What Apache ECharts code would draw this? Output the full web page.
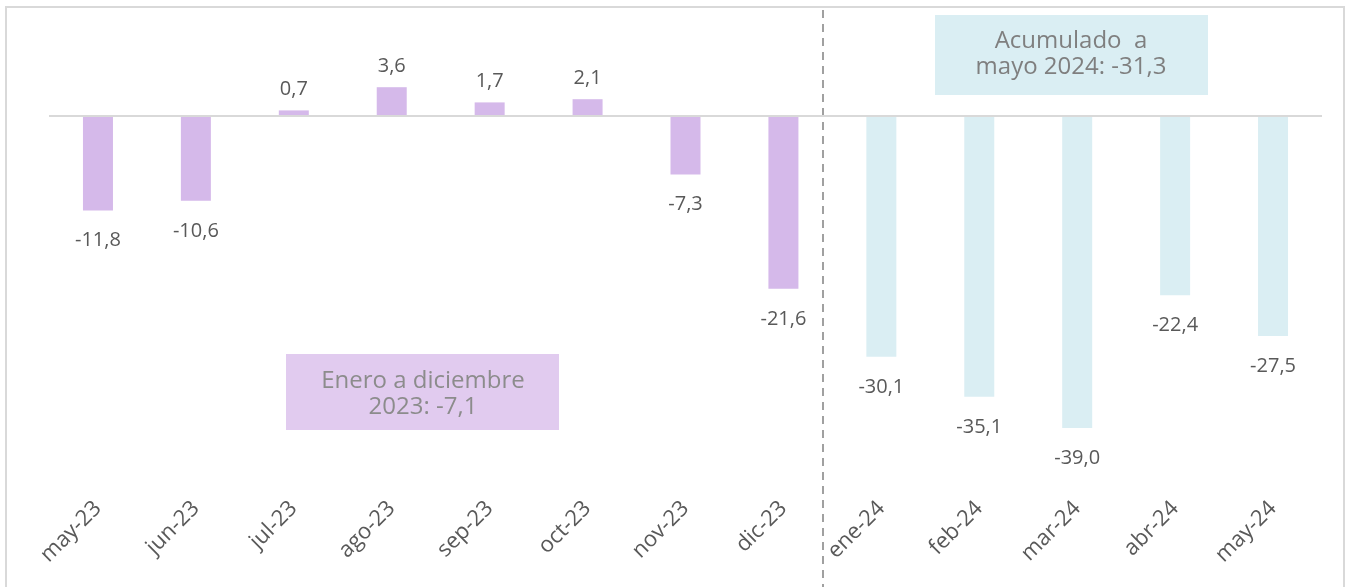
<!DOCTYPE html>
<html>
<head>
<meta charset="utf-8">
<script src="https://cdn.jsdelivr.net/npm/echarts@6/dist/echarts.min.js"></script>
<style>
    html, body { margin: 0; padding: 0; background: #fff; }
    #chart { width: 1355px; height: 587px; }
</style>
</head>
<body>
<div id="chart"></div>
<script>
// datos
const categories = ["may-23", "jun-23", "jul-23", "ago-23", "sep-23", "oct-23", "nov-23", "dic-23",
    "ene-24", "feb-24", "mar-24", "abr-24", "may-24"];
const values = [-11.8, -10.6, 0.7, 3.6, 1.7, 2.1, -7.3, -21.6, -30.1, -35.1, -39.0, -22.4, -27.5];
const color2023 = "#d5b9ea";
const color2024 = "#daeef3";
const font = "'Open Sans', 'Noto Sans', sans-serif";

const chart = echarts.init(document.getElementById("chart"));

const option = {
    backgroundColor: "#fff",
    textStyle: { fontFamily: font },
    grid: {
        left: 49,
        right: 33,
        top: 20,
        bottom: 91,
        containLabel: false,
    },
    xAxis: {
        type: "category",
        data: categories,
        axisLine: { show: false, onZero: false },
        axisTick: { show: false },
        axisLabel: {
            rotate: 45,
            interval: 0,
            margin: 9,
            fontSize: 22,
            color: "#595959",
        },
    },
    yAxis: {
        type: "value",
        min: -47.5,
        max: 12,
        show: false,
        splitLine: { show: false },
    },
    series: [
        {
            type: "bar",
            barWidth: 30,
            data: values.map((v, i) => ({
                value: v,
                itemStyle: { color: categories[i].endsWith("23") ? color2023 : color2024 },
                label: { position: v >= 0 ? "top" : "bottom", distance: v >= 0 ? 11 : 20 },
            })),
            label: {
                show: true,
                fontSize: 20,
                color: "#595959",
                formatter: (p) => p.value.toFixed(1).replace(".", ","),
            },
            markLine: {
                silent: true,
                symbol: "none",
                label: { show: false },
                lineStyle: { color: "#d9d9d9", width: 2, type: "solid" },
                data: [{ yAxis: 0 }],
            },
            z: 3,
        },
    ],
    graphic: [
        // marco
        {
            type: "rect",
            shape: { x: 6, y: 7, width: 1338, height: 600 },
            style: { fill: "none", stroke: "#d9d9d9", lineWidth: 2 },
            z: 0,
        },
        // separador
        {
            type: "line",
            shape: { x1: 823, y1: 10, x2: 823, y2: 587 },
            style: { stroke: "#a0a0a0", lineWidth: 2, lineDash: [8, 6] },
            z: 5,
        },
        {
            type: "rect",
            shape: { x: 935, y: 15, width: 273, height: 80 },
            style: { fill: "#daeef3" },
            z: 4,
        },
        {
            type: "text",
            x: 1071,
            y: 54,
            style: {
                text: "Acumulado  a\nmayo 2024: -31,3",
                fontSize: 24,
                lineHeight: 26,
                fill: "#7f7f7f",
                align: "center",
                verticalAlign: "middle",
                fontFamily: font,
            },
            z: 6,
        },
        {
            type: "rect",
            shape: { x: 286, y: 354, width: 273, height: 76 },
            style: { fill: "#e1cbef" },
            z: 4,
        },
        {
            type: "text",
            x: 423,
            y: 394,
            style: {
                text: "Enero a diciembre\n2023: -7,1",
                fontSize: 24,
                lineHeight: 26,
                fill: "#8c8c8c",
                align: "center",
                verticalAlign: "middle",
                fontFamily: font,
            },
            z: 6,
        },
    ],
};

chart.setOption(option);
</script>
</body>
</html>
